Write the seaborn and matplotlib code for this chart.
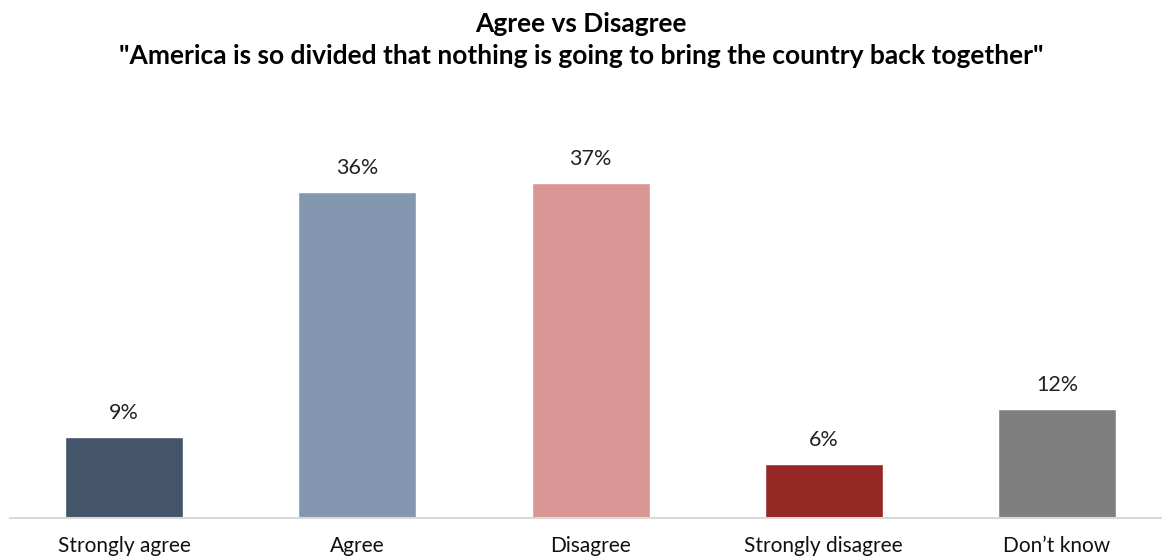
import matplotlib
matplotlib.use("Agg")
import matplotlib.pyplot as plt
import seaborn as sns
import pandas as pd

categories = ["Strongly agree", "Agree", "Disagree", "Strongly disagree", "Don\u2019t know"]
values = [9, 36, 37, 6, 12]
colors = ["#44546A", "#8497B0", "#DA9694", "#952724", "#7F7F7F"]
title_lines = ["Agree vs Disagree",
               "\"America is so divided that nothing is going to bring the country back together\""]

sns.set_theme(style="white")
plt.rcParams['font.family'] = ['Lato', 'DejaVu Sans']

df = pd.DataFrame({"cat": categories, "val": values})

fig = plt.figure(figsize=(11.62, 5.6), dpi=100)
ax = fig.add_axes([10/1162, 42/560, 1 - 10/1162, 416/560])
sns.barplot(data=df, x="cat", y="val", hue="cat", palette=colors, legend=False,
            width=0.506, saturation=1, ax=ax)

for i, v in enumerate(values):
    ax.text(i, v + 2.0, f"{v}%", ha="center", va="baseline", fontsize=15.5, color="#222222")

ax.set_xlim(-0.489, 4.45)
ax.set_ylim(0, 46)
ax.set_xlabel("")
ax.set_ylabel("")
ax.set_yticks([])
for s in ["top", "right", "left"]:
    ax.spines[s].set_visible(False)
ax.spines["bottom"].set_color("#D9D9D9")
ax.spines["bottom"].set_linewidth(1.5)
ax.tick_params(axis="x", length=0, pad=13, labelsize=15, labelcolor="#111111")

fig.text(0.5, 1 - 32/560, title_lines[0], ha="center", va="baseline",
         fontsize=19, fontweight="bold", color="#000000")
fig.text(0.5, 1 - 64/560, title_lines[1], ha="center", va="baseline",
         fontsize=19, fontweight="bold", color="#000000")

fig.savefig("out.png", dpi=100)
